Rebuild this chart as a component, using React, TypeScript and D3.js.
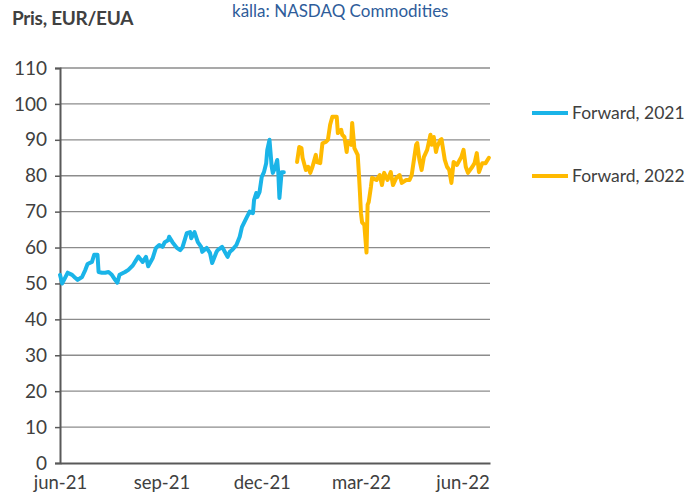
import React, { useEffect, useRef } from 'react';
import * as d3 from 'd3';

// Forward price, Dec-2021 contract (date, EUR/EUA)
const fwd2021Dates = [
  '2021-06-01', '2021-06-03', '2021-06-05', '2021-06-08', '2021-06-12', '2021-06-15', '2021-06-17',
  '2021-06-21', '2021-06-24', '2021-06-26', '2021-06-30', '2021-07-02', '2021-07-05', '2021-07-06',
  '2021-07-09', '2021-07-12', '2021-07-15', '2021-07-18', '2021-07-21', '2021-07-23', '2021-07-25',
  '2021-07-30', '2021-08-02', '2021-08-06', '2021-08-09', '2021-08-11', '2021-08-15', '2021-08-18',
  '2021-08-20', '2021-08-24', '2021-08-27', '2021-08-30', '2021-09-02', '2021-09-04', '2021-09-07',
  '2021-09-08', '2021-09-11', '2021-09-15', '2021-09-18', '2021-09-20', '2021-09-24', '2021-09-27',
  '2021-09-28', '2021-10-01', '2021-10-04', '2021-10-07', '2021-10-08', '2021-10-12', '2021-10-15',
  '2021-10-17', '2021-10-21', '2021-10-22', '2021-10-26', '2021-10-31', '2021-11-02', '2021-11-04',
  '2021-11-08', '2021-11-11', '2021-11-13', '2021-11-17', '2021-11-20', '2021-11-23', '2021-11-24',
  '2021-11-26', '2021-11-27', '2021-11-29', '2021-12-01', '2021-12-03', '2021-12-05', '2021-12-06',
  '2021-12-08', '2021-12-10', '2021-12-11', '2021-12-13', '2021-12-15', '2021-12-16', '2021-12-17',
  '2021-12-19', '2021-12-21',
];
const fwd2021Values = [
  52.4, 50, 51.2, 53, 52.4, 51.5, 51,
  51.8, 53.8, 55.4, 56, 58, 58, 53.2,
  53, 53, 53.2, 52.4, 51, 50.2, 52.4,
  53.2, 53.8, 55, 56.5, 57.5, 56, 57.4,
  54.8, 57, 59.9, 60.7, 60.2, 61.5, 62,
  63, 61.5, 59.9, 59.3, 60, 64, 64.3,
  62.6, 64.3, 61.5, 60.2, 58.8, 59.9, 58.5,
  55.7, 58.8, 59.3, 60.2, 57.4, 58.8, 59.3,
  60.7, 63, 65.7, 68.2, 70, 69.6, 73.2,
  75.2, 74.1, 75.5, 79.7, 81, 83.5, 87.2,
  90, 82.5, 80.8, 82.2, 84.4, 80.8, 73.8,
  81, 81,
];

// Forward price, Dec-2022 contract
const fwd2022Dates = [
  '2022-01-02', '2022-01-04', '2022-01-06', '2022-01-07', '2022-01-10', '2022-01-12', '2022-01-14',
  '2022-01-16', '2022-01-19', '2022-01-20', '2022-01-23', '2022-01-25', '2022-01-28', '2022-01-30',
  '2022-02-01', '2022-02-03', '2022-02-07', '2022-02-08', '2022-02-11', '2022-02-12', '2022-02-14',
  '2022-02-16', '2022-02-17', '2022-02-20', '2022-02-21', '2022-02-23', '2022-02-26', '2022-02-27',
  '2022-02-28', '2022-03-01', '2022-03-02', '2022-03-04', '2022-03-06', '2022-03-07', '2022-03-08',
  '2022-03-10', '2022-03-11', '2022-03-15', '2022-03-18', '2022-03-20', '2022-03-22', '2022-03-25',
  '2022-03-28', '2022-03-30', '2022-04-02', '2022-04-05', '2022-04-07', '2022-04-11', '2022-04-14',
  '2022-04-16', '2022-04-20', '2022-04-21', '2022-04-23', '2022-04-25', '2022-04-27', '2022-04-30',
  '2022-05-03', '2022-05-04', '2022-05-06', '2022-05-08', '2022-05-09', '2022-05-12', '2022-05-13',
  '2022-05-16', '2022-05-18', '2022-05-20', '2022-05-22', '2022-05-24', '2022-05-27', '2022-05-31',
  '2022-06-02', '2022-06-04', '2022-06-06', '2022-06-10', '2022-06-12', '2022-06-14', '2022-06-16',
  '2022-06-19', '2022-06-22', '2022-06-25',
];
const fwd2022Values = [
  83.8, 88, 87.7, 85, 81.6, 82.5, 80.8,
  82.5, 85.8, 83.8, 83.5, 89, 89.4, 90,
  94.2, 96.4, 96.4, 91.9, 92.8, 91.4, 90.8,
  86.6, 89.4, 88.6, 94.7, 87.7, 85.8, 81,
  75.5, 69.5, 67, 66.3, 58.6, 71.9, 72.7,
  76.9, 79.4, 78.8, 80.2, 77.4, 80.8, 78.8,
  81, 77.4, 79.4, 80.2, 78, 78.8, 78.8,
  80.2, 88.6, 89.1, 84.4, 81.6, 85.2, 87.2,
  91.4, 88.6, 90.8, 86.6, 88, 90, 90.2,
  84.4, 82.5, 81.6, 78, 83.8, 83, 85.2,
  87.2, 82.5, 80.8, 82.5, 83.5, 86.3, 81,
  83.5, 83.5, 85,
];

const yTicks = [0, 10, 20, 30, 40, 50, 60, 70, 80, 90, 100, 110];
const xTickDates = ['2021-06-01', '2021-09-01', '2021-12-01', '2022-03-01', '2022-06-01'];
const seriesNames = ['Forward, 2021', 'Forward, 2022'];
const seriesColors = ['#1AB4E8', '#FFBA00'];

const parse = d3.timeParse('%Y-%m-%d');
const fmtMonth = (d: Date) => {
  const m = ['jan', 'feb', 'mar', 'apr', 'maj', 'jun', 'jul', 'aug', 'sep', 'okt', 'nov', 'dec'][d.getMonth()];
  return `${m}-${String(d.getFullYear()).slice(2)}`;
};

export default function App() {
  const svgRef = useRef<SVGSVGElement | null>(null);

  useEffect(() => {
    if (!svgRef.current) return;
    const W = 700;
    const H = 497;
    const plot = { left: 60, right: 490, top: 68, bottom: 463 };
    const font = 'Lato, "Open Sans", sans-serif';
    const textColor = '#404040';

    const svg = d3.select(svgRef.current);
    svg.selectAll('*').remove();
    svg.attr('width', W).attr('height', H);

    const x = d3.scaleTime()
      .domain([parse('2021-06-01')!, parse('2022-06-26')!])
      .range([plot.left, plot.right]);
    const y = d3.scaleLinear().domain([0, 110]).range([plot.bottom, plot.top]);

    // gridlines
    svg.append('g')
      .selectAll('line')
      .data(yTicks.filter(t => t > 0))
      .join('line')
      .attr('x1', plot.left)
      .attr('x2', plot.right)
      .attr('y1', d => y(d))
      .attr('y2', d => y(d))
      .attr('stroke', '#8c8c8c')
      .attr('stroke-width', 1.3);

    // y axis
    const yAxis = svg.append('g')
      .attr('transform', `translate(${plot.left},0)`)
      .call(d3.axisLeft(y).tickValues(yTicks).tickSize(5).tickPadding(8));
    yAxis.select('.domain').attr('stroke', '#595959').attr('stroke-width', 2);
    yAxis.selectAll('.tick line').attr('stroke', '#595959').attr('stroke-width', 1.5);
    yAxis.selectAll('.tick text')
      .attr('fill', textColor)
      .attr('font-family', font)
      .attr('font-size', 19)
      .attr('dy', '0.32em');

    // x axis
    const xAxis = svg.append('g')
      .attr('transform', `translate(0,${plot.bottom})`)
      .call(
        d3.axisBottom(x)
          .tickValues(xTickDates.map(s => parse(s)!))
          .tickFormat(d => fmtMonth(d as Date))
          .tickSize(0)
          .tickPadding(13)
      );
    xAxis.select('.domain').attr('stroke', '#595959').attr('stroke-width', 2);
    xAxis.selectAll('.tick text')
      .attr('fill', textColor)
      .attr('font-family', font)
      .attr('font-size', 18.5)
      .attr('dy', '0.72em');

    // series
    const series = [
      fwd2021Dates.map((d, i) => ({ date: parse(d)!, value: fwd2021Values[i] })),
      fwd2022Dates.map((d, i) => ({ date: parse(d)!, value: fwd2022Values[i] })),
    ];
    const line = d3.line<{ date: Date; value: number }>()
      .x(d => x(d.date))
      .y(d => y(d.value));

    series.forEach((s, i) => {
      svg.append('path')
        .datum(s)
        .attr('fill', 'none')
        .attr('stroke', seriesColors[i])
        .attr('stroke-width', 4)
        .attr('stroke-linejoin', 'round')
        .attr('stroke-linecap', 'round')
        .attr('d', line);
    });

    // legend
    const legend = svg.append('g').attr('transform', 'translate(532,113)');
    seriesNames.forEach((name, i) => {
      const g = legend.append('g').attr('transform', `translate(0,${i * 63})`);
      g.append('line')
        .attr('x1', 0).attr('x2', 36)
        .attr('stroke', seriesColors[i])
        .attr('stroke-width', 4);
      g.append('text')
        .attr('x', 40)
        .attr('dy', '0.36em')
        .attr('fill', textColor)
        .attr('font-family', font)
        .attr('font-size', 17.5)
        .text(name);
    });

    // title & source
    svg.append('text')
      .attr('x', 12).attr('y', 25)
      .attr('fill', textColor)
      .attr('font-family', font)
      .attr('font-weight', 'bold')
      .attr('font-size', 19)
      .attr('letter-spacing', -0.3)
      .text('Pris, EUR/EUA');
    svg.append('text')
      .attr('x', 232).attr('y', 17)
      .attr('fill', '#2E5C9A')
      .attr('font-family', font)
      .attr('font-size', 17)
      .text('källa: NASDAQ Commodities');
  }, []);

  return <svg ref={svgRef} style={{ position: 'absolute', left: 0, top: 0, display: 'block' }} />;
}
